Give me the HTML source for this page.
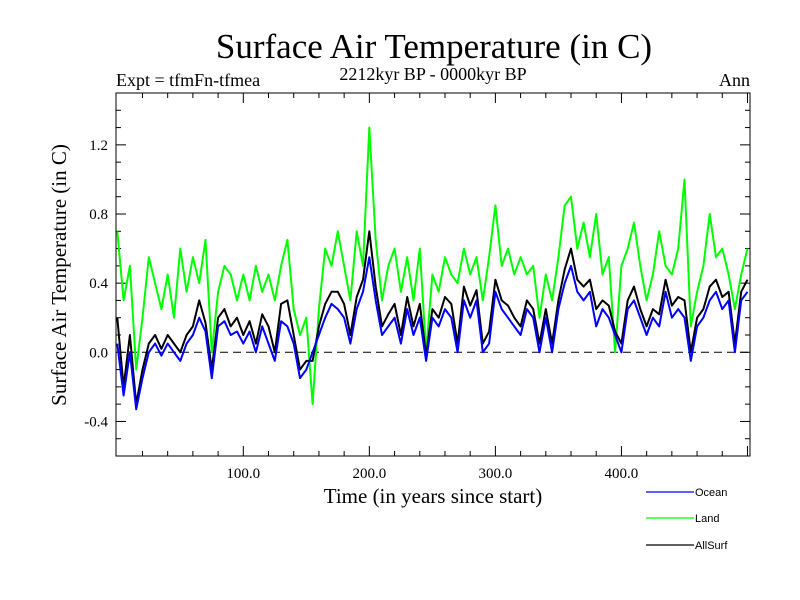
<!DOCTYPE html>
<html><head><meta charset="utf-8"><style>
html,body{margin:0;padding:0;background:#fff;}
svg{display:block;}
.serif{font-family:"Liberation Serif",serif;}
.sans{font-family:"Liberation Sans",sans-serif;}
</style></head><body>
<svg id="chart" width="800" height="600" viewBox="0 0 800 600" xmlns="http://www.w3.org/2000/svg">
<text class="serif" x="434" y="58" font-size="35" text-anchor="middle">Surface Air Temperature (in C)</text>
<text class="serif" x="116" y="86" font-size="18">Expt = tfmFn-tfmea</text>
<text class="serif" x="433" y="80" font-size="18" text-anchor="middle">2212kyr BP - 0000kyr BP</text>
<text class="serif" x="750" y="86" font-size="18" text-anchor="end">Ann</text>
<text class="serif" x="0" y="0" font-size="21" text-anchor="middle" transform="translate(66,275) rotate(-90)">Surface Air Temperature (in C)</text>
<text class="serif" x="433" y="503" font-size="21" text-anchor="middle">Time (in years since start)</text>
<g id="ticks"></g>
<g id="series"></g>
<rect x="116" y="93" width="634" height="363" fill="none" stroke="#000" stroke-width="1"/>
<g>
<line x1="646" y1="492" x2="694" y2="492" stroke="#0000ff" stroke-width="1.2"/>
<text class="sans" x="695" y="496" font-size="11">Ocean</text>
<line x1="646" y1="518" x2="694" y2="518" stroke="#00ff00" stroke-width="1.2"/>
<text class="sans" x="695" y="522" font-size="11">Land</text>
<line x1="646" y1="545" x2="694" y2="545" stroke="#000" stroke-width="1.2"/>
<text class="sans" x="695" y="549" font-size="11">AllSurf</text>
</g>
</svg>
<script>
const years = [];
for (let i = 0; i <= 100; i++) years.push(i * 5);
const ocean = [0.05,-0.25,0.0,-0.33,-0.15,0.0,0.05,-0.02,0.05,0.0,-0.05,0.05,0.1,0.2,0.12,-0.15,0.15,0.18,0.1,0.12,0.05,0.12,0.0,0.15,0.05,-0.05,0.18,0.15,0.05,-0.15,-0.1,0.0,0.1,0.2,0.28,0.25,0.2,0.05,0.25,0.35,0.55,0.3,0.1,0.15,0.2,0.05,0.25,0.1,0.2,-0.05,0.2,0.15,0.25,0.2,0.0,0.3,0.2,0.3,0.0,0.05,0.35,0.25,0.2,0.15,0.1,0.25,0.2,0.0,0.2,0.0,0.25,0.4,0.5,0.35,0.3,0.35,0.15,0.25,0.2,0.1,0.0,0.25,0.3,0.2,0.1,0.2,0.15,0.35,0.2,0.25,0.2,-0.05,0.15,0.2,0.3,0.35,0.25,0.3,0.0,0.3,0.35];
const land = [0.7,0.3,0.5,-0.1,0.2,0.55,0.4,0.25,0.45,0.2,0.6,0.35,0.55,0.4,0.65,0.0,0.35,0.5,0.45,0.3,0.45,0.3,0.5,0.35,0.45,0.3,0.5,0.65,0.25,0.1,0.2,-0.3,0.25,0.6,0.5,0.7,0.5,0.3,0.7,0.5,1.3,0.65,0.3,0.5,0.6,0.35,0.55,0.3,0.6,0.0,0.45,0.35,0.55,0.45,0.4,0.6,0.45,0.55,0.3,0.55,0.85,0.5,0.6,0.45,0.55,0.45,0.5,0.2,0.45,0.3,0.55,0.85,0.9,0.6,0.75,0.55,0.8,0.45,0.55,0.0,0.5,0.6,0.75,0.5,0.3,0.45,0.7,0.5,0.45,0.6,1.0,0.15,0.35,0.5,0.8,0.55,0.6,0.45,0.25,0.45,0.6];
const allsurf = [0.2,-0.2,0.1,-0.3,-0.1,0.05,0.1,0.02,0.1,0.05,0.0,0.1,0.15,0.3,0.17,-0.1,0.2,0.25,0.15,0.2,0.1,0.18,0.05,0.22,0.15,0.0,0.28,0.3,0.1,-0.1,-0.05,-0.05,0.15,0.28,0.35,0.35,0.28,0.1,0.32,0.42,0.7,0.38,0.15,0.22,0.28,0.1,0.32,0.15,0.28,-0.02,0.25,0.2,0.32,0.28,0.05,0.38,0.27,0.36,0.05,0.12,0.42,0.3,0.27,0.2,0.15,0.3,0.25,0.05,0.25,0.05,0.3,0.48,0.6,0.42,0.38,0.42,0.25,0.3,0.27,0.12,0.05,0.3,0.38,0.25,0.15,0.25,0.22,0.42,0.27,0.32,0.3,0.0,0.2,0.25,0.38,0.42,0.32,0.35,0.05,0.35,0.42];
const yTickLabels = ["-0.4","0.0","0.4","0.8","1.2"];
const xTickLabels = ["100.0","200.0","300.0","400.0"];

const X0 = 116, X1 = 750, Y0 = 93, Y1 = 456;
const xMin = -1, xMax = 502, yMin = -0.6, yMax = 1.5;
const NS = 'http://www.w3.org/2000/svg';
function xs(v){ return X0 + (v - xMin) / (xMax - xMin) * (X1 - X0); }
function ys(v){ return Y1 - (v - yMin) / (yMax - yMin) * (Y1 - Y0); }
function mk(tag, attrs, parent){
  const e = document.createElementNS(NS, tag);
  for (const k in attrs) e.setAttribute(k, attrs[k]);
  parent.appendChild(e);
  return e;
}
const tg = document.getElementById('ticks');
for (let k = -6; k <= 15; k++) {
  const v = k / 10, y = ys(v);
  if (y < Y0 || y > Y1) continue;
  const major = (k % 4 === 0);
  const len = major ? 10 : 5;
  const a = mk('line', {x1:X0, y1:y, x2:X0+len, y2:y, stroke:'#000', 'stroke-width':1}, tg);
  
  
  const b = mk('line', {x1:X1, y1:y, x2:X1-len, y2:y, stroke:'#000', 'stroke-width':1}, tg);
  
  
}
yTickLabels.forEach(function(l){
  const t = mk('text', {x:108, y:ys(parseFloat(l))+5, 'font-size':15, 'text-anchor':'end', 'class':'serif'}, tg);
  t.textContent = l;
  
  
});
for (let v = 20; v <= 500; v += 20) {
  const x = xs(v);
  if (x > X1) continue;
  const major = (v % 100 === 0);
  const len = major ? 10 : 5;
  const a = mk('line', {x1:x, y1:Y1, x2:x, y2:Y1-len, stroke:'#000', 'stroke-width':1}, tg);
  
  
  const b = mk('line', {x1:x, y1:Y0, x2:x, y2:Y0+len, stroke:'#000', 'stroke-width':1}, tg);
  
  
}
xTickLabels.forEach(function(l){
  const t = mk('text', {x:xs(parseFloat(l)), y:Y1+22, 'font-size':15, 'text-anchor':'middle', 'class':'serif'}, tg);
  t.textContent = l;
  
  
});
const sg = document.getElementById('series');
const zl = mk('line', {x1:X0, y1:ys(0), x2:X1, y2:ys(0), stroke:'#000', 'stroke-width':1, 'stroke-dasharray':'8,5'}, sg);


function drawLine(vals, color, name){
  const d = vals.map(function(v,i){ return (i?'L':'M') + xs(years[i]).toFixed(1) + ',' + ys(v).toFixed(1); }).join('');
  const p = mk('path', {d:d, fill:'none', stroke:color, 'stroke-width':2, 'stroke-linejoin':'round'}, sg);
  
  
}
drawLine(land, '#00ff00', 'land-series-line');
drawLine(allsurf, '#000000', 'allsurf-series-line');
drawLine(ocean, '#0000ff', 'ocean-series-line');
</script>
</body></html>
